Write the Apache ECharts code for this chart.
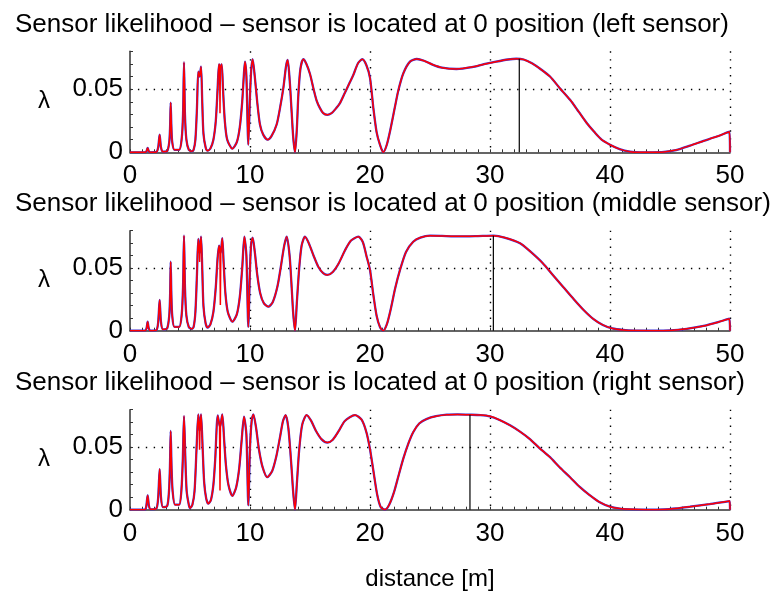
<!DOCTYPE html>
<html><head><meta charset="utf-8">
<script src="https://cdn.jsdelivr.net/npm/echarts@6/dist/echarts.min.js"></script>
<style>html,body{margin:0;padding:0;background:#fff}#c{width:777px;height:593px}</style>
</head><body><div id="c"></div>
<script>
const titles = [
  'Sensor likelihood \u2013 sensor is located at 0 position (left sensor)',
  'Sensor likelihood \u2013 sensor is located at 0 position (middle sensor)',
  'Sensor likelihood \u2013 sensor is located at 0 position (right sensor)'
];
const xTickLabels = [0, 10, 20, 30, 40, 50];
const yTickLabels = [0, 0.05];

const leftCurve = [[0,0],[1.25,0],[1.38,0.001],[1.47,0.0035],[1.56,0.001],[1.7,0],[2.2,0.0003],[2.35,0.004],[2.47,0.014],[2.58,0.004],[2.75,0.0005],[3.1,0.001],[3.27,0.008],[3.34,0.02],[3.39,0.0394],[3.45,0.02],[3.52,0.008],[3.7,0.002],[4.1,0.002],[4.3,0.01],[4.42,0.03],[4.5,0.0713],[4.58,0.03],[4.7,0.01],[4.9,0.002],[5.14,0.0008],[5.3,0.002],[5.45,0.01],[5.58,0.035],[5.69,0.0639],[5.8,0.06],[5.92,0.0678],[6.02,0.04],[6.12,0.015],[6.3,0.004],[6.47,0.0013],[6.7,0.003],[6.95,0.01],[7.15,0.025],[7.3,0.05],[7.42,0.0697],[7.53,0.067],[7.64,0.0697],[7.75,0.05],[7.9,0.025],[8.1,0.01],[8.53,0.0029],[8.9,0.008],[9.15,0.02],[9.35,0.04],[9.48,0.06],[9.58,0.0718],[9.7,0.06],[9.86,0.006],[10.0,0.045],[10.1,0.065],[10.22,0.0737],[10.4,0.06],[10.6,0.04],[10.83,0.022],[11.1,0.014],[11.47,0.010],[11.8,0.013],[12.22,0.022],[12.5,0.035],[12.78,0.051],[13.0,0.068],[13.14,0.0731],[13.3,0.058],[13.47,0.032],[13.6,0.012],[13.75,0],[13.9,0.018],[14.03,0.0455],[14.2,0.066],[14.44,0.0737],[14.7,0.07],[15.0,0.062],[15.28,0.0508],[15.55,0.041],[15.83,0.035],[16.1,0.031],[16.44,0.0297],[16.8,0.031],[17.1,0.034],[17.5,0.039],[17.9,0.047],[18.3,0.055],[18.6,0.061],[19.0,0.0705],[19.36,0.0737],[19.7,0.069],[20.0,0.059],[20.28,0.035],[20.55,0.016],[20.83,0.006],[21.1,0],[21.4,0.006],[21.7,0.018],[22.08,0.036],[22.36,0.049],[22.78,0.0626],[23.33,0.0718],[23.9,0.0739],[24.5,0.0725],[25.2,0.0695],[26,0.067],[27.2,0.066],[28.5,0.0675],[29.5,0.0698],[30.5,0.0718],[31.5,0.0735],[32.2,0.0741],[32.8,0.0735],[33.5,0.0705],[34.2,0.066],[35,0.060],[35.8,0.051],[36.67,0.0416],[37.4,0.032],[38.06,0.0232],[38.7,0.016],[39.3,0.010],[40,0.006],[40.8,0.0025],[41.67,0.0005],[42.5,0],[43.5,0],[44.5,0.0003],[45.5,0.0018],[46.67,0.0053],[47.8,0.009],[48.9,0.0125],[49.95,0.0163],[50,0]];

const middleCurve = [[0,0],[1.25,0],[1.38,0.002],[1.47,0.0072],[1.56,0.002],[1.7,0],[2.2,0.0005],[2.35,0.007],[2.47,0.0246],[2.58,0.007],[2.75,0.001],[3.1,0.002],[3.27,0.012],[3.34,0.028],[3.39,0.0552],[3.45,0.028],[3.52,0.012],[3.7,0.003],[4.1,0.003],[4.3,0.012],[4.42,0.035],[4.5,0.076],[4.58,0.035],[4.7,0.012],[4.9,0.003],[5.14,0.0015],[5.3,0.003],[5.45,0.015],[5.58,0.045],[5.69,0.0734],[5.8,0.062],[5.92,0.0752],[6.02,0.05],[6.12,0.02],[6.3,0.006],[6.47,0.0025],[6.7,0.005],[6.95,0.015],[7.15,0.035],[7.3,0.058],[7.42,0.068],[7.55,0.062],[7.69,0.074],[7.8,0.055],[7.95,0.03],[8.15,0.015],[8.53,0.0072],[8.9,0.013],[9.15,0.027],[9.35,0.05],[9.53,0.0752],[9.7,0.06],[9.86,0.003],[10.0,0.05],[10.1,0.07],[10.22,0.0744],[10.4,0.063],[10.6,0.045],[10.85,0.03],[11.15,0.022],[11.53,0.0192],[11.9,0.023],[12.3,0.036],[12.6,0.053],[12.85,0.068],[13.06,0.0752],[13.3,0.06],[13.47,0.035],[13.6,0.014],[13.75,0],[13.9,0.022],[14.1,0.05],[14.3,0.068],[14.58,0.0752],[14.9,0.07],[15.3,0.06],[15.7,0.051],[16.1,0.046],[16.44,0.0446],[16.9,0.047],[17.4,0.054],[17.9,0.064],[18.4,0.072],[19.03,0.0752],[19.4,0.071],[19.7,0.06],[20.0,0.0486],[20.28,0.0286],[20.55,0.012],[20.83,0.003],[21.1,0],[21.4,0.005],[21.7,0.016],[22.1,0.034],[22.5,0.0486],[23.0,0.063],[23.6,0.0712],[24.2,0.0745],[25,0.076],[26,0.0758],[27,0.0755],[28,0.0755],[29,0.0757],[30.3,0.076],[31.2,0.0745],[32.5,0.07],[33.4,0.063],[34.4,0.054],[35.2,0.045],[36.1,0.035],[37,0.025],[37.8,0.0166],[38.6,0.0095],[39.4,0.0046],[40.2,0.0018],[41.1,0.0006],[42,0.0001],[43.5,0],[45,0.0002],[46.4,0.0015],[47.8,0.0038],[49,0.0068],[49.94,0.0096],[50,0]];

const rightCurve = [[0,0],[1.25,0],[1.36,0.003],[1.47,0.0114],[1.58,0.003],[1.72,0.0003],[2.2,0.001],[2.35,0.01],[2.47,0.0325],[2.58,0.01],[2.75,0.002],[3.1,0.003],[3.25,0.015],[3.33,0.035],[3.39,0.063],[3.46,0.035],[3.55,0.015],[3.75,0.004],[4.1,0.004],[4.28,0.015],[4.4,0.04],[4.5,0.0749],[4.6,0.045],[4.72,0.015],[4.9,0.004],[5.0,0.0013],[5.2,0.004],[5.38,0.015],[5.55,0.05],[5.69,0.0762],[5.8,0.063],[5.92,0.0762],[6.05,0.05],[6.18,0.022],[6.35,0.009],[6.53,0.0048],[6.75,0.008],[6.95,0.02],[7.1,0.04],[7.31,0.0754],[7.5,0.066],[7.69,0.0762],[7.85,0.055],[8.0,0.035],[8.2,0.02],[8.53,0.011],[8.85,0.018],[9.1,0.033],[9.3,0.055],[9.5,0.0744],[9.7,0.06],[9.86,0.0035],[10.0,0.05],[10.15,0.072],[10.28,0.0762],[10.5,0.066],[10.75,0.048],[11.05,0.034],[11.44,0.026],[11.85,0.031],[12.2,0.043],[12.5,0.058],[12.75,0.071],[12.97,0.0757],[13.2,0.065],[13.45,0.035],[13.6,0.014],[13.75,0],[13.9,0.02],[14.1,0.048],[14.35,0.068],[14.72,0.0757],[15.1,0.071],[15.5,0.063],[15.95,0.0565],[16.44,0.0537],[16.9,0.056],[17.4,0.063],[17.9,0.071],[18.75,0.0757],[19.3,0.072],[19.7,0.062],[20.0,0.0484],[20.3,0.03],[20.6,0.012],[20.9,0.002],[21.25,0],[21.6,0.004],[22.0,0.014],[22.4,0.028],[22.78,0.041],[23.2,0.053],[23.6,0.062],[24.1,0.069],[24.7,0.0725],[25.5,0.0748],[26.4,0.076],[27.3,0.0762],[28.33,0.076],[29.2,0.0757],[30,0.0747],[30.8,0.0718],[31.67,0.0675],[32.5,0.0625],[33.3,0.0567],[34.1,0.0495],[35,0.042],[35.8,0.034],[36.67,0.026],[37.5,0.018],[38.3,0.0117],[39.1,0.0062],[40,0.0024],[40.8,0.0009],[41.7,0.0003],[43,0],[44.5,0.0002],[45.5,0.001],[46.67,0.0024],[48.3,0.0045],[49.97,0.0069],[50,0]];

// red-only dips
const leftRedDips = [[7.47,0.068],[7.5,0.031],[7.53,0.068]];
const middleRedDips = [[5.76,0.066],[5.8,0.055],[5.84,0.066],null,[7.49,0.066],[7.53,0.0206],[7.57,0.066]];
const rightRedDips = [[5.76,0.068],[5.8,0.048],[5.84,0.068],null,[7.46,0.07],[7.5,0.0154],[7.54,0.07]];

// black marker lines (position of maximum)
const markerX = [32.44, 30.28, 28.33];
const markerY = [0.0741, 0.076, 0.076];

const curves = [leftCurve, middleCurve, rightCurve];
const dips = [leftRedDips, middleRedDips, rightRedDips];

const FONT = 'Liberation Sans, Arial, Helvetica, sans-serif';
const gridTops = [51.3, 230.7, 409.7];
const titleTops = [7, 186, 365];

const chart = echarts.init(document.getElementById('c'), null, {renderer: 'canvas'});

const xSplitColors = [];
for (let i = 0; i <= 50; i++) xSplitColors.push(i > 0 && i % 10 === 0 ? '#000' : 'rgba(0,0,0,0)');
const ySplitColors = [];
for (let i = 0; i <= 8; i++) ySplitColors.push(i === 5 ? '#000' : 'rgba(0,0,0,0)');

const grids = [], xAxes = [], yAxes = [], series = [], titleArr = [];
for (let k = 0; k < 3; k++) {
  titleArr.push({text: titles[k], left: 10, top: titleTops[k],
    textStyle: {fontFamily: FONT, fontSize: 26, fontWeight: 'normal', color: '#000'}});
  grids.push({left: 130, top: gridTops[k], width: 600, height: 101 - (k ? 1 : 0), containLabel: false});
  xAxes.push({type: 'value', gridIndex: k, min: 0, max: 50, interval: 1,
    name: k === 2 ? 'distance [m]' : '', nameLocation: 'middle', nameGap: 58,
    nameTextStyle: {fontFamily: FONT, fontSize: 24, color: '#000'},
    axisLine: {show: true, onZero: false, lineStyle: {color: '#333', width: 1.5}},
    axisTick: {show: true, inside: true, length: 3, lineStyle: {color: '#333', width: 1}},
    axisLabel: {show: true, margin: 11, fontFamily: FONT, fontSize: 26, color: '#000',
      formatter: v => xTickLabels.some(t => Math.abs(t - v) < 1e-6) ? String(Math.round(v)) : ''},
    splitLine: {show: true, lineStyle: {color: xSplitColors, width: 1.4, type: [1.4, 6.5]}}
  });
  yAxes.push({type: 'value', gridIndex: k, min: 0, max: 0.08, interval: 0.01,
    name: '\u03bb', nameLocation: 'middle', nameGap: 80, nameRotate: 0,
    nameTextStyle: {fontFamily: FONT, fontSize: 24, color: '#000'},
    axisLine: {show: true, lineStyle: {color: '#333', width: 1.5}},
    axisTick: {show: true, inside: true, length: 3, lineStyle: {color: '#333', width: 1}},
    axisLabel: {show: true, margin: 7, fontFamily: FONT, fontSize: 26, color: '#000',
      formatter: v => { const m = yTickLabels.find(t => Math.abs(t - v) < 1e-6); return m === undefined ? '' : String(m); }},
    splitLine: {show: true, lineStyle: {color: ySplitColors, width: 1.4, type: [1.4, 6.5]}}
  });
  series.push({type: 'line', xAxisIndex: k, yAxisIndex: k, data: curves[k], showSymbol: false, symbol: 'none',
    smooth: 0.25, lineStyle: {color: '#4030d0', width: 2.3}, z: 2, silent: true});
  series.push({type: 'line', xAxisIndex: k, yAxisIndex: k, data: curves[k], showSymbol: false, symbol: 'none',
    smooth: 0.25, lineStyle: {color: '#ff0000', width: 1.5}, z: 3, silent: true});
  series.push({type: 'line', xAxisIndex: k, yAxisIndex: k, data: dips[k], showSymbol: false, symbol: 'none',
    connectNulls: false, lineStyle: {color: '#ff0000', width: 1.5}, z: 4, silent: true});
  series.push({type: 'line', xAxisIndex: k, yAxisIndex: k, data: [[markerX[k], 0], [markerX[k], markerY[k]]],
    showSymbol: false, symbol: 'none', lineStyle: {color: '#000', width: 1.2}, z: 5, silent: true});
}

chart.setOption({animation: false, backgroundColor: '#fff', title: titleArr, grid: grids,
  xAxis: xAxes, yAxis: yAxes, series: series});
</script></body></html>
